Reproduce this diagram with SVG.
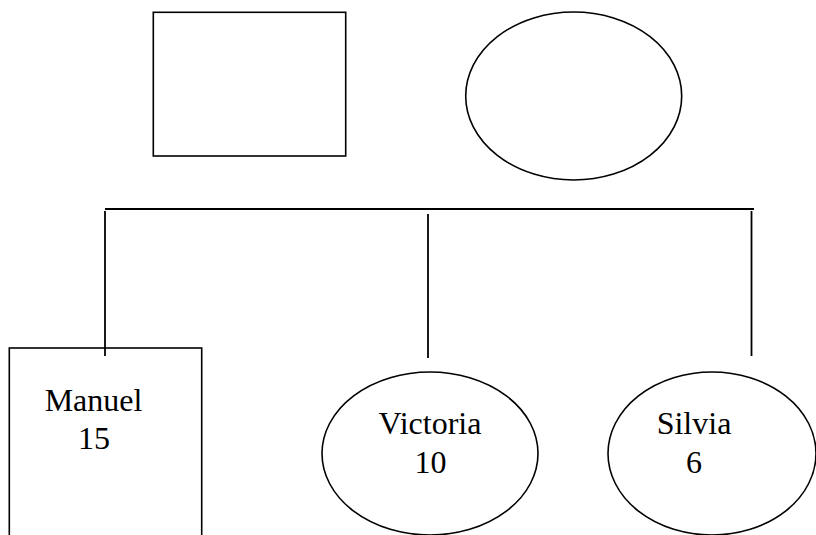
<svg xmlns="http://www.w3.org/2000/svg" width="816" height="535" viewBox="0 0 816 535">
<style>
.s{fill:none;stroke:#000;stroke-width:1.6}
.c{stroke:#000;stroke-width:1.8;fill:none}
.t{font-family:"Liberation Serif","Times New Roman",serif;font-size:32px;fill:#000}
</style>
<rect width="816" height="535" fill="#fff"/>
<g id="father"><rect class="s" x="153.3" y="12.3" width="192.4" height="143.7"/></g>
<g id="mother"><ellipse class="s" cx="573.7" cy="96" rx="108" ry="84"/></g>
<g id="connectors">
<line class="c" x1="105" y1="209" x2="754" y2="209"/>
<line class="c" x1="105" y1="211" x2="105" y2="356"/>
<line class="c" x1="428" y1="214" x2="428" y2="358"/>
<line class="c" x1="751.5" y1="211" x2="751.5" y2="356"/>
</g>
<g id="manuel">
<rect class="s" x="9.3" y="348" width="192.4" height="200"/>
<text class="t" x="93.5" y="411" text-anchor="middle">Manuel</text>
<text class="t" x="94" y="449" text-anchor="middle">15</text>
</g>
<g id="victoria">
<ellipse class="s" cx="430" cy="453.5" rx="108" ry="81.5"/>
<text class="t" x="430" y="434" text-anchor="middle">Victoria</text>
<text class="t" x="430.5" y="473" text-anchor="middle">10</text>
</g>
<g id="silvia">
<ellipse class="s" cx="712" cy="453.5" rx="104" ry="81.5"/>
<text class="t" x="694" y="434" text-anchor="middle">Silvia</text>
<text class="t" x="694" y="473" text-anchor="middle">6</text>
</g>
</svg>
